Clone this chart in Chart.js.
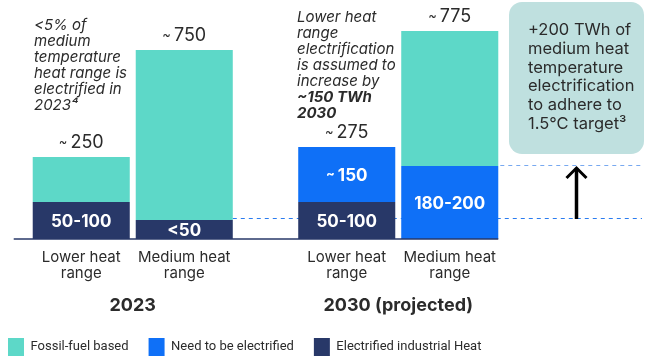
<!DOCTYPE html>
<html>
<head>
<meta charset="utf-8">
<script src="https://cdn.jsdelivr.net/npm/chart.js@4"></script>
<style>
  html, body { margin: 0; padding: 0; background: #fff; }
  #wrap { width: 651px; height: 356px; }
</style>
</head>
<body>
<div id="wrap"><canvas id="grafico"></canvas></div>
<script>
// grupos en el eje x (2023 / 2030)
const grupos = ['2023', '2030 (projected)'];
const rangos = { bajo: ['Lower heat', 'range'], medio: ['Medium heat', 'range'] };

// alturas dibujadas de cada tramo (el grafico original no esta a escala)
const electrificadoBajo = [37, 37];
const electrificadoMedio = [19, 0];
const porElectrificarBajo = [0, 55];
const porElectrificarMedio = [0, 73];
const fosilBajo = [45, 0];
const fosilMedio = [170, 135];

// textos de cada tramo
const txtElectrificadoBajo = ['50-100', '50-100'];
const txtElectrificadoMedio = ['<50', ''];
const txtPorElectrificarBajo = ['', '~150'];
const txtPorElectrificarMedio = ['', '180-200'];
const totalesBajo = ['~250', '~275'];
const totalesMedio = ['~750', '~775'];

const notaIzq = ['<5% of', 'medium', 'temperature', 'heat range is', 'electrified in', '2023⁴'];
const notaCentro = ['Lower heat', 'range', 'electrification', 'is assumed to', 'increase by'];
const notaCentroBold = ['~150 TWh', '2030'];
const notaCaja = ['+200 TWh of', 'medium heat', 'temperature', 'electrification', 'to adhere to', '1.5°C target³'];

const colores = {
  fosil: '#5dd8c8',
  porElectrificar: '#0f70f7',
  electrificado: '#283868',
  caja: '#bfe0df',
  texto: '#2b2b2b',
  guia: '#2a7cf0',
  guiaClara: '#78a9f0'
};

const FUENTE = 'Inter, "Noto Sans", sans-serif';
Chart.defaults.font.family = FUENTE;
Chart.defaults.color = colores.texto;

// dibuja "~123" con la tilde mas chica
function textoConTilde(ctx, texto, x, y, fuente, fuenteTilde) {
  if (texto[0] !== '~') { ctx.font = fuente; ctx.fillText(texto, x, y); return; }
  const num = texto.slice(1);
  ctx.font = fuenteTilde;
  const wt = ctx.measureText('~').width;
  ctx.font = fuente;
  const wn = ctx.measureText(num).width;
  const x0 = x - (wt + 3 + wn) / 2;
  ctx.textAlign = 'left';
  ctx.font = fuenteTilde;
  ctx.fillText('~', x0, y - 1);
  ctx.font = fuente;
  ctx.fillText(num, x0 + wt + 3, y);
  ctx.textAlign = 'center';
}

const caja = { x: 509, y: 2, w: 135, h: 152, r: 13 };

const anotaciones = {
  id: 'anotaciones',
  beforeDatasetsDraw(chart) {
    const ctx = chart.ctx;
    ctx.save();
    // caja derecha
    ctx.fillStyle = colores.caja;
    ctx.beginPath();
    ctx.roundRect(caja.x, caja.y, caja.w, caja.h, caja.r);
    ctx.fill();

    // lineas punteadas
    const bajo = chart.getDatasetMeta(1).data[0];
    const alto = chart.getDatasetMeta(3).data[1];
    const yb = Math.round(bajo.y) - 1.5;
    const ya = Math.round(alto.y) - 0.5;
    const fin = caja.x + caja.w - 2;
    ctx.lineWidth = 1;
    ctx.setLineDash([4, 4]);
    ctx.strokeStyle = colores.guia;
    ctx.beginPath();
    ctx.moveTo(bajo.x + bajo.width / 2, yb);
    ctx.lineTo(fin, yb);
    ctx.stroke();
    ctx.strokeStyle = colores.guiaClara;
    ctx.beginPath();
    ctx.moveTo(alto.x + alto.width / 2 + 2, ya);
    ctx.lineTo(fin, ya);
    ctx.stroke();
    ctx.restore();
  },
  afterDatasetsDraw(chart) {
    const ctx = chart.ctx;
    const area = chart.chartArea;
    ctx.save();
    ctx.textAlign = 'center';
    ctx.textBaseline = 'middle';

    // eje x
    const primera = chart.getDatasetMeta(0).data[0];
    const ultima = chart.getDatasetMeta(5).data[1];
    ctx.strokeStyle = colores.electrificado;
    ctx.lineWidth = 1.5;
    ctx.beginPath();
    ctx.moveTo(primera.x - primera.width / 2 - 19, area.bottom);
    ctx.lineTo(ultima.x + ultima.width / 2, area.bottom);
    ctx.stroke();

    // textos dentro de las barras
    ctx.fillStyle = '#fff';
    chart.data.datasets.forEach((ds, d) => {
      chart.getDatasetMeta(d).data.forEach((bar, i) => {
        const t = ds.etiquetas[i];
        if (!t) return;
        textoConTilde(ctx, t, bar.x, (bar.y + bar.base) / 2 + 1, 'bold 17px ' + FUENTE, 'bold 13px ' + FUENTE);
      });
    });

    // totales arriba de cada barra
    ctx.fillStyle = colores.texto;
    const totales = { bajo: totalesBajo, medio: totalesMedio };
    ['bajo', 'medio'].forEach(pila => {
      grupos.forEach((g, i) => {
        let tope = null, x = 0;
        chart.data.datasets.forEach((ds, d) => {
          if (ds.stack !== pila || !ds.data[i]) return;
          const el = chart.getDatasetMeta(d).data[i];
          if (tope === null || el.y < tope) { tope = el.y; x = el.x; }
        });
        textoConTilde(ctx, totales[pila][i], x, tope - 14, '18px ' + FUENTE, '13px ' + FUENTE);
      });
    });

    // rangos bajo cada barra
    ctx.font = '15px ' + FUENTE;
    [['bajo', 0], ['medio', 1]].forEach(([pila, d]) => {
      chart.getDatasetMeta(d).data.forEach(bar => {
        rangos[pila].forEach((linea, k) => {
          ctx.fillText(linea, bar.x, area.bottom + 18 + k * 16);
        });
      });
    });

    // notas en cursiva
    ctx.textAlign = 'left';
    ctx.font = 'italic 15px ' + FUENTE;
    notaIzq.forEach((linea, k) => ctx.fillText(linea, 34, 25 + k * 16));
    notaCentro.forEach((linea, k) => ctx.fillText(linea, 297, 17 + k * 16));
    ctx.font = 'italic bold 15px ' + FUENTE;
    notaCentroBold.forEach((linea, k) => ctx.fillText(linea, 297, 17 + (notaCentro.length + k) * 16));

    // texto de la caja
    ctx.font = '16.5px ' + FUENTE;
    notaCaja.forEach((linea, k) => ctx.fillText(linea, caja.x + 19, 30 + k * 18.8));

    // flecha
    const bajo = chart.getDatasetMeta(1).data[0];
    const alto = chart.getDatasetMeta(3).data[1];
    const ax = caja.x + caja.w / 2;
    const punta = Math.round(alto.y);
    ctx.strokeStyle = '#000';
    ctx.lineCap = 'butt';
    ctx.lineWidth = 3.5;
    ctx.beginPath();
    ctx.moveTo(ax, Math.round(bajo.y) - 1);
    ctx.lineTo(ax, punta + 2);
    ctx.stroke();
    ctx.lineWidth = 3;
    ctx.lineJoin = 'miter';
    ctx.beginPath();
    ctx.moveTo(ax - 10, punta + 12);
    ctx.lineTo(ax, punta + 2);
    ctx.lineTo(ax + 10, punta + 12);
    ctx.stroke();
    ctx.restore();
  }
};

const serie = (label, pila, data, color, etiquetas) => ({
  label, stack: pila, data, backgroundColor: color, borderWidth: 0, etiquetas
});

const ejeOculto = ancho => ({
  display: true,
  stacked: true,
  min: 0,
  max: 239,
  grid: { display: false },
  border: { display: false },
  ticks: { display: false },
  afterFit(scale) { scale.width = ancho; }
});

new Chart(document.getElementById('grafico'), {
  type: 'bar',
  data: {
    labels: grupos,
    datasets: [
      serie('Electrified industrial Heat', 'bajo', electrificadoBajo, colores.electrificado, txtElectrificadoBajo),
      serie('Electrified industrial Heat', 'medio', electrificadoMedio, colores.electrificado, txtElectrificadoMedio),
      serie('Need to be electrified', 'bajo', porElectrificarBajo, colores.porElectrificar, txtPorElectrificarBajo),
      serie('Need to be electrified', 'medio', porElectrificarMedio, colores.porElectrificar, txtPorElectrificarMedio),
      serie('Fossil-fuel based', 'bajo', fosilBajo, colores.fosil, ['', '']),
      serie('Fossil-fuel based', 'medio', fosilMedio, colores.fosil, ['', ''])
    ]
  },
  options: {
    responsive: true,
    maintainAspectRatio: false,
    animation: false,
    categoryPercentage: 0.776,
    barPercentage: 0.942,
    layout: { padding: { left: -12, right: 0, top: 0, bottom: 0 } },
    scales: {
      x: {
        stacked: true,
        grid: { display: false, drawTicks: false },
        border: { display: false },
        ticks: { padding: 56, color: colores.texto, font: { size: 18, weight: 'bold' } },
        afterFit(scale) { scale.height = 79; }
      },
      y: Object.assign(ejeOculto(12), { position: 'left' }),
      y2: Object.assign(ejeOculto(120), { position: 'right' })
    },
    plugins: {
      tooltip: { enabled: false },
      legend: {
        position: 'bottom',
        align: 'start',
        reverse: true,
        maxHeight: 38,
        labels: {
          boxWidth: 16,
          boxHeight: 18,
          padding: 20,
          color: colores.texto,
          font: { family: 'Roboto', size: 13 },
          filter: item => item.datasetIndex % 2 === 0
        }
      }
    }
  },
  plugins: [anotaciones]
});
</script>
</body>
</html>
